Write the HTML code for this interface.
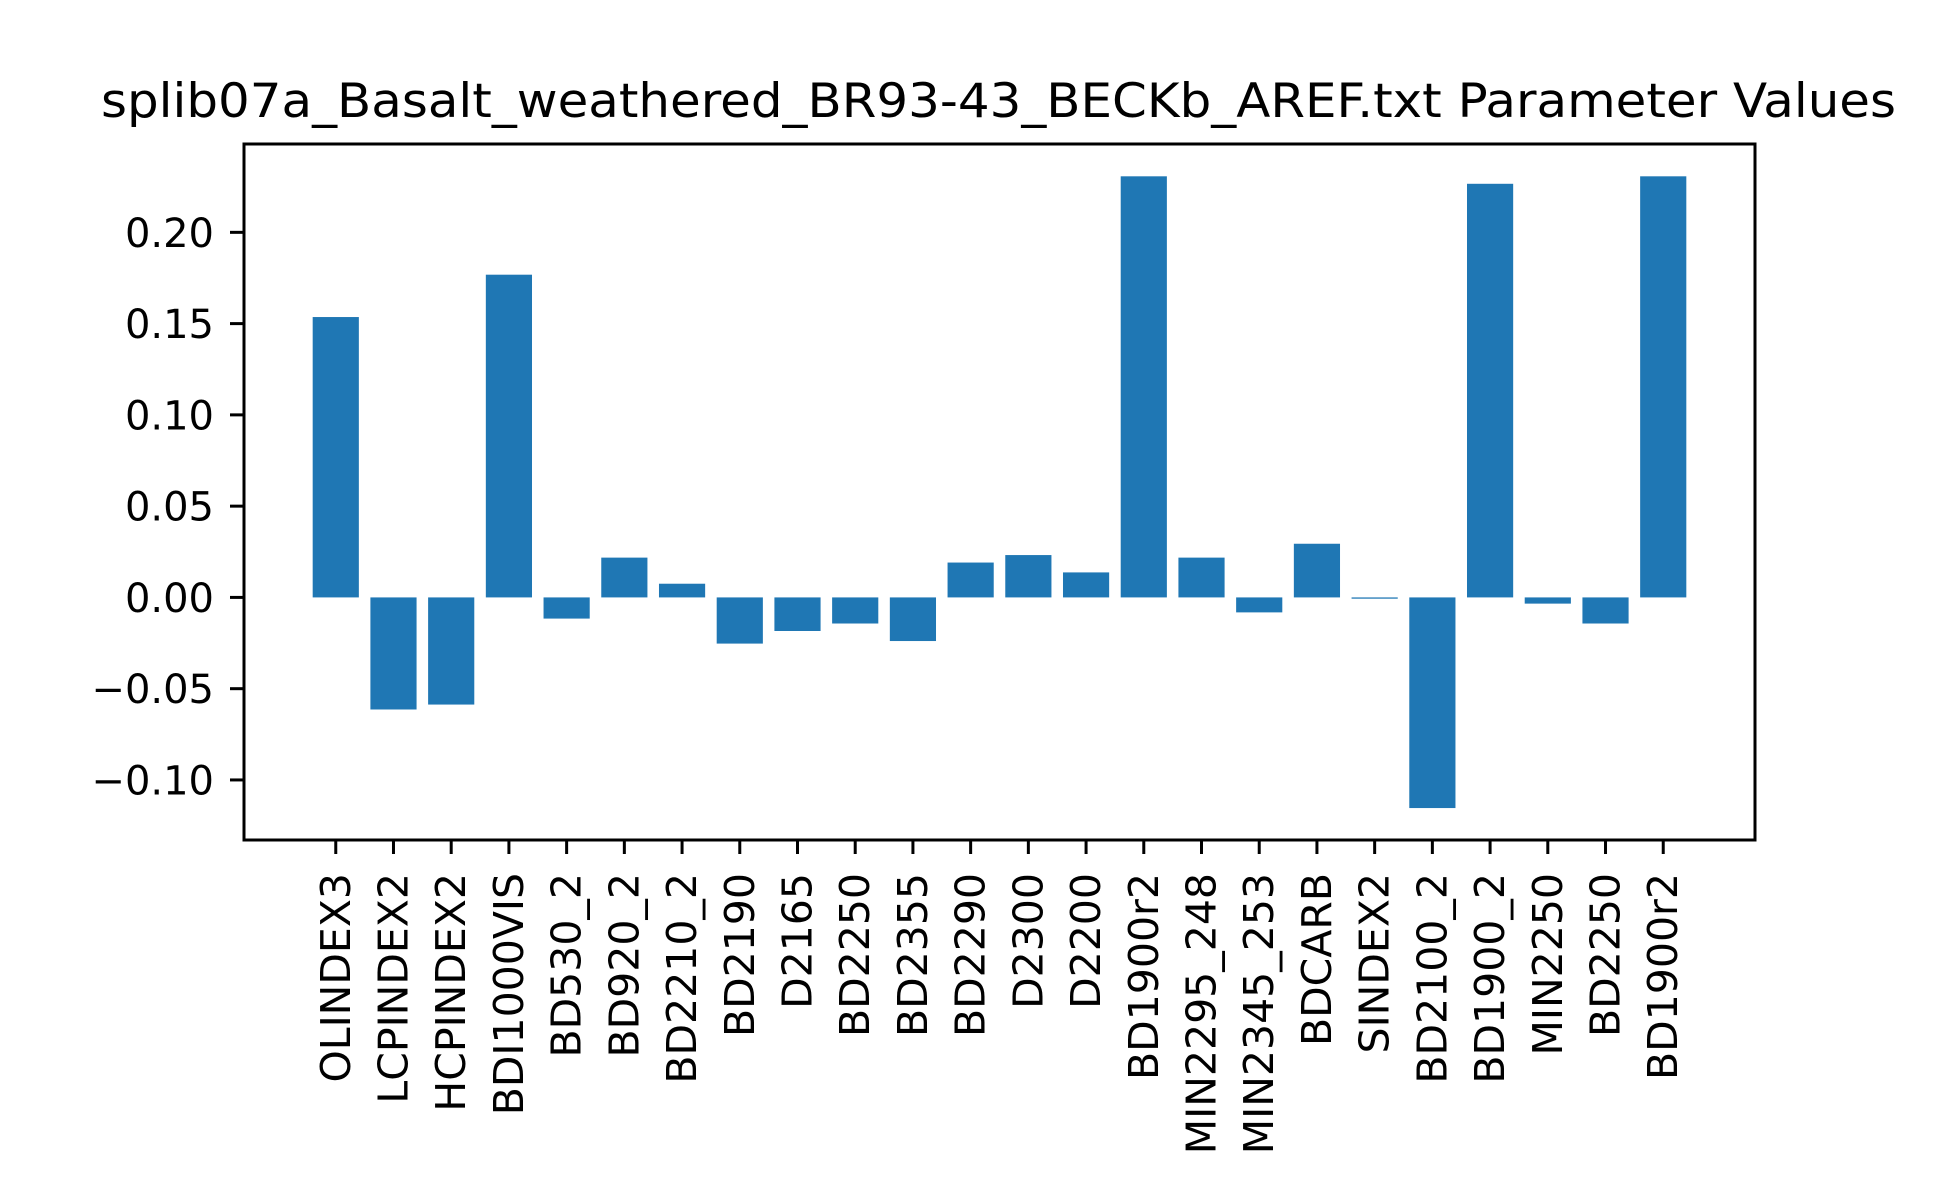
<!DOCTYPE html>
<html><head><meta charset="utf-8"><style>
html,body{margin:0;padding:0;background:#fff;}
svg{display:block;font-family:"DejaVu Sans","Liberation Sans",sans-serif;}
</style></head><body>
<svg id="chart" width="1950" height="1200" viewBox="0 0 1950 1200" xmlns="http://www.w3.org/2000/svg">
<rect width="1950" height="1200" fill="#fff"/>
<text x="998.5" y="117" font-size="47" text-anchor="middle" textLength="1795" lengthAdjust="spacingAndGlyphs">splib07a_Basalt_weathered_BR93-43_BECKb_AREF.txt Parameter Values</text>
<g id="bars"></g>
<g id="yaxis"></g>
<g id="xaxis"></g>
<rect x="244" y="144" width="1511" height="696" fill="none" stroke="#000" stroke-width="3"/>
</svg>
<script>
const categories = ["OLINDEX3","LCPINDEX2","HCPINDEX2","BDI1000VIS","BD530_2","BD920_2","BD2210_2","BD2190","D2165","BD2250","BD2355","BD2290","D2300","D2200","BD1900r2","MIN2295_248","MIN2345_253","BDCARB","SINDEX2","BD2100_2","BD1900_2","MIN2250","BD2250","BD1900r2"];
const values = [0.1536,-0.0614,-0.0587,0.1768,-0.0116,0.0218,0.0075,-0.0253,-0.0184,-0.0143,-0.0239,0.0191,0.0232,0.0137,0.2307,0.0218,-0.0082,0.0294,-0.0007,-0.1154,0.2266,-0.0034,-0.0143,0.2307];
const yTicks = [-0.10,-0.05,0.00,0.05,0.10,0.15,0.20];
const yTickLabels = ["\u22120.10","\u22120.05","0.00","0.05","0.10","0.15","0.20"];

const NS="http://www.w3.org/2000/svg";
const L=244,R=1755,T=144,B=840;
const n=categories.length;
const xmin=-0.4-0.05*(n-1+0.8), xmax=(n-1)+0.4+0.05*(n-1+0.8);
const ymin=-0.1329, ymax=0.2484;
function xs(v){return L+(v-xmin)/(xmax-xmin)*(R-L);}
function ys(v){return B-(v-ymin)/(ymax-ymin)*(B-T);}
const barsG=document.getElementById('bars'), yG=document.getElementById('yaxis'), xG=document.getElementById('xaxis');
values.forEach((v,i)=>{
  const r=document.createElementNS(NS,'rect');
  const x0=xs(i-0.4), x1=xs(i+0.4);
  const y0=ys(Math.max(v,0)), y1=ys(Math.min(v,0));
  r.setAttribute('x',x0);r.setAttribute('width',x1-x0);
  r.setAttribute('y',y0);r.setAttribute('height',Math.max(y1-y0,1));
  r.setAttribute('fill','#1f77b4');
  
  
  barsG.appendChild(r);
  const t=document.createElementNS(NS,'line');
  t.setAttribute('x1',xs(i));t.setAttribute('x2',xs(i));t.setAttribute('y1',B);t.setAttribute('y2',B+14);
  t.setAttribute('stroke','#000');t.setAttribute('stroke-width','3');
  
  
  xG.appendChild(t);
  const lb=document.createElementNS(NS,'text');
  const cx=xs(i), cy=B+33;
  lb.setAttribute('x',cx);lb.setAttribute('y',cy);
  lb.setAttribute('transform','rotate(-90 '+cx+' '+cy+')');
  lb.setAttribute('text-anchor','end');lb.setAttribute('dominant-baseline','central');
  lb.setAttribute('font-size','41');
  lb.textContent=categories[i];
  
  
  xG.appendChild(lb);
});
yTicks.forEach((v,i)=>{
  const y=ys(v);
  const t=document.createElementNS(NS,'line');
  t.setAttribute('x1',L-14);t.setAttribute('x2',L);t.setAttribute('y1',y);t.setAttribute('y2',y);
  t.setAttribute('stroke','#000');t.setAttribute('stroke-width','3');
  
  
  yG.appendChild(t);
  const lb=document.createElementNS(NS,'text');
  lb.setAttribute('x',L-30);lb.setAttribute('y',y+14.5);
  lb.setAttribute('text-anchor','end');lb.setAttribute('font-size','40');
  lb.textContent=yTickLabels[i];
  
  
  yG.appendChild(lb);
});
</script>
</body></html>
